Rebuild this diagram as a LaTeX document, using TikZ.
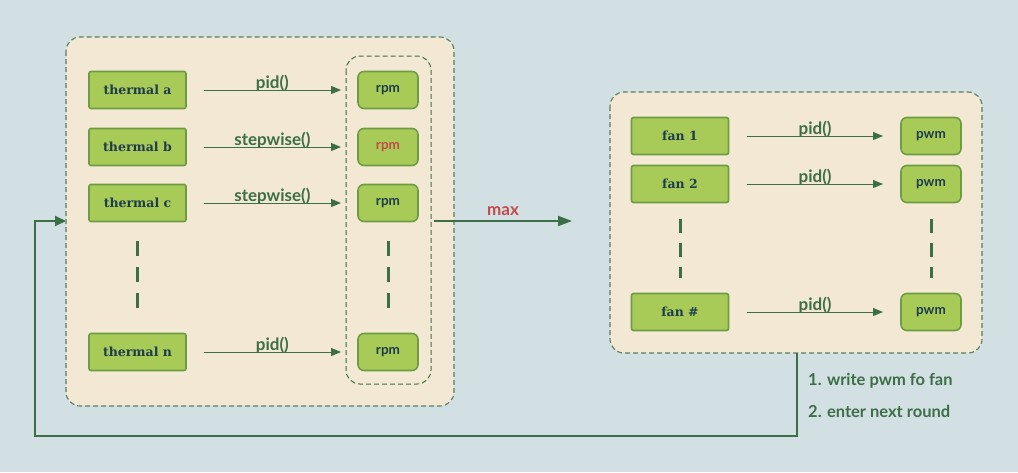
\documentclass[tikz,border=0pt]{standalone}
\usepackage{fontspec}
\setmainfont{Lato}
\newfontfamily\slab{DejaVu Serif}
\usetikzlibrary{arrows.meta}
\definecolor{bg}{HTML}{D3E0E3}
\definecolor{panel}{HTML}{F2E8D3}
\definecolor{boxfill}{HTML}{A8CB58}
\definecolor{boxline}{HTML}{6E9C45}
\definecolor{ink}{HTML}{1F3B4D}
\definecolor{wire}{HTML}{3C6E47}
\definecolor{rim}{HTML}{5A7D63}
\definecolor{hot}{HTML}{C44A4C}
\tikzset{
  panelbox/.style={draw=rim, dash pattern=on 5pt off 3pt, fill=panel, rounded corners=14pt, line width=1.1pt},
  groupbox/.style={draw=wire, dash pattern=on 5pt off 3pt, rounded corners=14pt, line width=1pt},
  srcbox/.style={draw=boxline, fill=boxfill, line width=1.6pt, rounded corners=2pt,
    minimum width=97pt, minimum height=37pt, font=\slab\bfseries\fontsize{12.5}{14}\selectfont, text=ink, inner sep=0pt},
  valbox/.style={draw=boxline, fill=boxfill, line width=1.6pt, rounded corners=6pt,
    minimum width=60pt, minimum height=37pt, font=\bfseries\fontsize{13.5}{15}\selectfont, text=ink, inner sep=0pt},
  flow/.style={draw=wire, line width=1pt, -{Triangle[length=10pt,width=8pt]}},
  flowlabel/.style={font=\bfseries\fontsize{17}{19}\selectfont, text=wire, inner sep=0pt, anchor=base, yshift=2pt},
  ellipsis/.style={draw=wire, line width=3pt, dash pattern=on 15pt off 11pt},
  loop/.style={draw=wire, line width=2pt},
  note/.style={font=\bfseries\fontsize{16.5}{18}\selectfont, text=wire, anchor=west, inner sep=0pt}
}
\begin{document}
\begin{tikzpicture}[x=1pt,y=-1pt]
\fill[bg] (0,0) rectangle (1018,472);
\useasboundingbox (0,0) rectangle (1018,472);

% thermal zone panel
\draw[panelbox] (66,37) rectangle (454,406);
\draw[groupbox] (346,56) rectangle (431,384);

\node[srcbox] (ta) at (137.5,90) {thermal a};
\node[srcbox] (tb) at (137.5,147) {thermal b};
\node[srcbox] (tc) at (137.5,203) {thermal c};
\node[srcbox] (tn) at (137.5,352) {thermal n};

\node[valbox] (ra) at (388,90) {rpm};
\node[valbox, text=hot] (rb) at (388,147) {rpm};
\node[valbox] (rc) at (388,203) {rpm};
\node[valbox] (rn) at (388,352) {rpm};

\coordinate (aa) at (341,90);
\coordinate (ab) at (341,147);
\coordinate (ac) at (341,203);
\coordinate (an) at (341,352);
\draw[flow] ([xshift=17pt]ta.east) -- node[flowlabel]{pid()} (aa);
\draw[flow] ([xshift=17pt]tb.east) -- node[flowlabel]{stepwise()} (ab);
\draw[flow] ([xshift=17pt]tc.east) -- node[flowlabel]{stepwise()} (ac);
\draw[flow] ([xshift=17pt]tn.east) -- node[flowlabel]{pid()} (an);

\coordinate (d1t) at (137,241); \coordinate (d1b) at (137,310);
\coordinate (d2t) at (388,241); \coordinate (d2b) at (388,310);
\draw[ellipsis] (d1t) -- (d1b);
\draw[ellipsis] (d2t) -- (d2b);

% max of all requested speeds
\coordinate (mx0) at (434,221);
\coordinate (mx1) at (572,221);
\draw[draw=wire, line width=2pt, -{Triangle[length=14pt,width=10pt]}] (mx0) -- node[flowlabel, text=hot, yshift=4pt]{max} (mx1);

% fan panel
\draw[panelbox] (610,92) rectangle (982,353);

\node[srcbox] (f1) at (680,136) {fan 1};
\node[srcbox] (f2) at (680,184) {fan 2};
\node[srcbox] (fn) at (680,312) {fan \#};

\node[valbox] (p1) at (931,136) {pwm};
\node[valbox] (p2) at (931,184) {pwm};
\node[valbox] (pn) at (931,312) {pwm};

\coordinate (b1) at (883,136);
\coordinate (b2) at (883,184);
\coordinate (bn) at (883,312);
\draw[flow] ([xshift=18pt]f1.east) -- node[flowlabel]{pid()} (b1);
\draw[flow] ([xshift=18pt]f2.east) -- node[flowlabel]{pid()} (b2);
\draw[flow] ([xshift=18pt]fn.east) -- node[flowlabel]{pid()} (bn);

\coordinate (d3t) at (680,219); \coordinate (d3b) at (680,278);
\coordinate (d4t) at (931,219); \coordinate (d4b) at (931,278);
\draw[ellipsis, dash pattern=on 14pt off 10pt] (d3t) -- (d3b);
\draw[ellipsis, dash pattern=on 14pt off 10pt] (d4t) -- (d4b);

% feedback loop
\coordinate (l0) at (797,353);
\coordinate (l1) at (797,436);
\coordinate (l2) at (35,436);
\coordinate (l3) at (35,221);
\coordinate (l4) at (66,221);
\draw[loop, -{Triangle[length=11pt,width=10pt]}] (l0) -- (l1) -- (l2) -- (l3) -- (l4);

\node[note] (n1) at (808,381) {1. write pwm fo fan};
\node[note] (n2) at (808,411) {2. enter next round};
\end{tikzpicture}
\end{document}
